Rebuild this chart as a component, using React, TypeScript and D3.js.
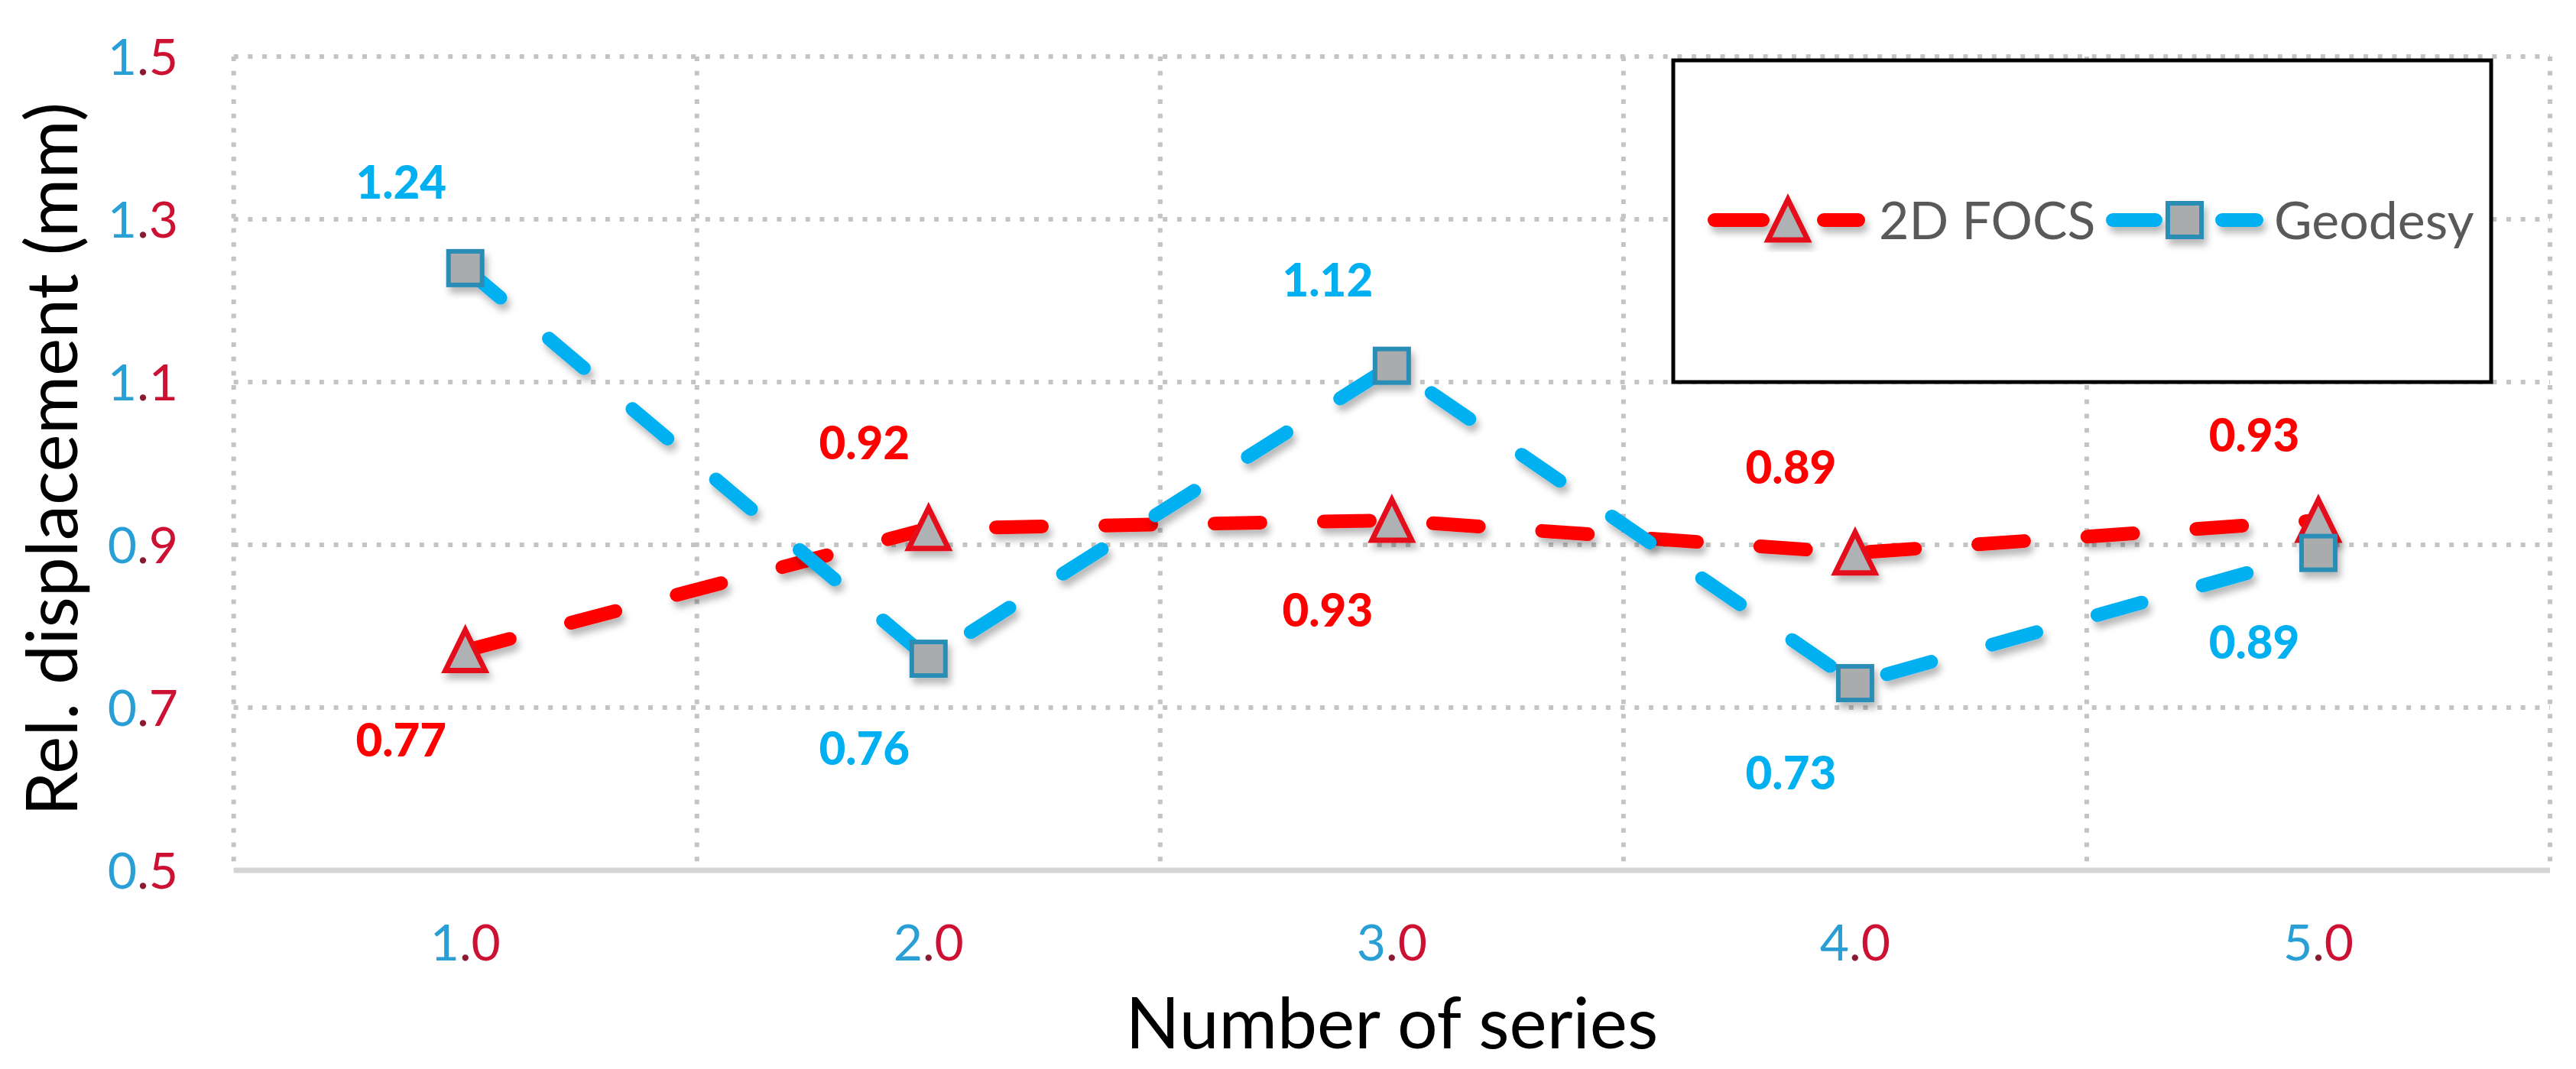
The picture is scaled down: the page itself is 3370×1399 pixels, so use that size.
import React from 'react';
import * as d3 from 'd3';

const categories = ['1.0', '2.0', '3.0', '4.0', '5.0'];
const focsValues = [0.77, 0.92, 0.93, 0.89, 0.93];
const geodesyValues = [1.24, 0.76, 1.12, 0.73, 0.89];
const yTicks = [0.5, 0.7, 0.9, 1.1, 1.3, 1.5];
const focsLabelSide = ['below', 'above', 'below', 'above', 'above'];
const geodesyLabelSide = ['above', 'below', 'above', 'below', 'below'];
const seriesNames = ['2D FOCS', 'Geodesy'];

const W = 3370;
const H = 1399;
const plot = { left: 305.7, right: 3336, top: 74, bottom: 1139 };
const RED = '#FF0000';
const BLUE = '#00B0F0';
const FONT = 'Lato, Calibri, "Open Sans", sans-serif';

function Triangle({ x, y }: { x: number; y: number }) {
  const p = `M${x},${y - 27} L${x + 26},${y + 26} L${x - 26},${y + 26} Z`;
  return <path d={p} fill="#aeb2b4" stroke="#e3101c" strokeWidth={7} strokeLinejoin="miter" />;
}

function Square({ x, y }: { x: number; y: number }) {
  return <rect x={x - 22} y={y - 22} width={44} height={44} fill="#a9abad" stroke="#2a8db5" strokeWidth={6} />;
}

function TickText({ text, x, y, anchor }: { text: string; x: number; y: number; anchor: string }) {
  const chars = text.split('');
  return (
    <text x={x} y={y} textAnchor={anchor} fontFamily={FONT} fontSize={66}>
      {chars.map((c, i) => (
        <tspan key={i} fill={i === 0 ? '#2a9fd6' : c === '.' ? '#8a1a30' : '#cc1133'}>{c}</tspan>
      ))}
    </text>
  );
}

export default function App() {
  const x = d3.scaleBand<string>().domain(categories).range([plot.left, plot.right]).padding(0);
  const y = d3.scaleLinear().domain([0.5, 1.5]).range([plot.bottom, plot.top]);
  const cx = (c: string) => (x(c) as number) + x.bandwidth() / 2;
  const line = d3
    .line<number>()
    .x((_d, i) => cx(categories[i]))
    .y((d) => y(d));

  const vGrid = categories.map((c) => x(c) as number).concat([plot.right]);
  const hGrid = yTicks.filter((t) => t > 0.5);

  const labelY = (v: number, side: string) => y(v) + (side === 'above' ? -112 : 117) + 21.5;

  return (
    <svg width={W} height={H} style={{ position: 'absolute', left: 0, top: 0, background: '#fff' }}>
      <defs>
        <filter id="sh" x="-10%" y="-30%" width="120%" height="160%">
          <feDropShadow dx={4} dy={8} stdDeviation={5} floodColor="#000" floodOpacity={0.28} />
        </filter>
      </defs>
      <rect x={0} y={0} width={W} height={H} fill="#fff" />

      {/* gridlines */}
      <g stroke="#c4c4c4" strokeWidth={6} strokeDasharray="6 12.7">
        {hGrid.map((t) => (
          <line key={'h' + t} x1={plot.left} x2={plot.right} y1={y(t)} y2={y(t)} />
        ))}
        {vGrid.map((gx, i) => (
          <line key={'v' + i} x1={gx} x2={gx} y1={plot.top} y2={plot.bottom} />
        ))}
      </g>
      <line x1={plot.left} x2={plot.right} y1={plot.bottom} y2={plot.bottom} stroke="#d4d4d4" strokeWidth={7} />

      {/* y tick labels */}
      {yTicks.map((t) => (
        <TickText key={'yt' + t} text={d3.format('.1f')(t)} x={233} y={y(t) + 23.5} anchor="end" />
      ))}
      {/* x tick labels */}
      {categories.map((c) => (
        <TickText key={'xt' + c} text={c} x={cx(c)} y={1257} anchor="middle" />
      ))}

      {/* axis titles */}
      <text x={(plot.left + plot.right) / 2} y={1372} textAnchor="middle" fontFamily={FONT} fontSize={93} fill="#000">
        Number of series
      </text>
      <text
        transform={`translate(101,601) rotate(-90)`}
        textAnchor="middle"
        fontFamily={FONT}
        fontSize={93}
        fill="#000"
      >
        Rel. displacement (mm)
      </text>

      {/* legend */}
      <rect x={2189} y={79} width={1070} height={421} fill="#fff" stroke="#000" strokeWidth={5} />
      <g filter="url(#sh)">
        <line x1={2243} x2={2306} y1={288} y2={288} stroke={RED} strokeWidth={18} strokeLinecap="round" />
        <line x1={2386} x2={2431} y1={288} y2={288} stroke={RED} strokeWidth={18} strokeLinecap="round" />
        <Triangle x={2339} y={288} />
        <line x1={2764} x2={2820} y1={288} y2={288} stroke={BLUE} strokeWidth={18} strokeLinecap="round" />
        <line x1={2907} x2={2952} y1={288} y2={288} stroke={BLUE} strokeWidth={18} strokeLinecap="round" />
        <Square x={2858} y={288} />
      </g>
      <text x={2458} y={313} fontFamily={FONT} fontSize={68} fill="#595959">{seriesNames[0]}</text>
      <text x={2975} y={313} fontFamily={FONT} fontSize={68} fill="#595959">{seriesNames[1]}</text>

      {/* series 1: 2D FOCS */}
      <g filter="url(#sh)">
        <path d={line(focsValues) || ''} fill="none" stroke={RED} strokeWidth={18} strokeLinecap="round" strokeDasharray="60 83" />
        {focsValues.map((v, i) => (
          <Triangle key={'tr' + i} x={cx(categories[i])} y={y(v)} />
        ))}
      </g>
      {/* series 2: Geodesy */}
      <g filter="url(#sh)">
        <path d={line(geodesyValues) || ''} fill="none" stroke={BLUE} strokeWidth={18} strokeLinecap="round" strokeDasharray="60 83" />
        {geodesyValues.map((v, i) => (
          <Square key={'sq' + i} x={cx(categories[i])} y={y(v)} />
        ))}
      </g>

      {/* data labels */}
      {focsValues.map((v, i) => (
        <text key={'fl' + i} x={cx(categories[i]) - 84} y={labelY(v, focsLabelSide[i])} textAnchor="middle" fontFamily={FONT} fontWeight={900} fontSize={60} fill={RED}>
          {d3.format('.2f')(v)}
        </text>
      ))}
      {geodesyValues.map((v, i) => (
        <text key={'gl' + i} x={cx(categories[i]) - 84} y={labelY(v, geodesyLabelSide[i])} textAnchor="middle" fontFamily={FONT} fontWeight={900} fontSize={60} fill={BLUE}>
          {d3.format('.2f')(v)}
        </text>
      ))}
    </svg>
  );
}
